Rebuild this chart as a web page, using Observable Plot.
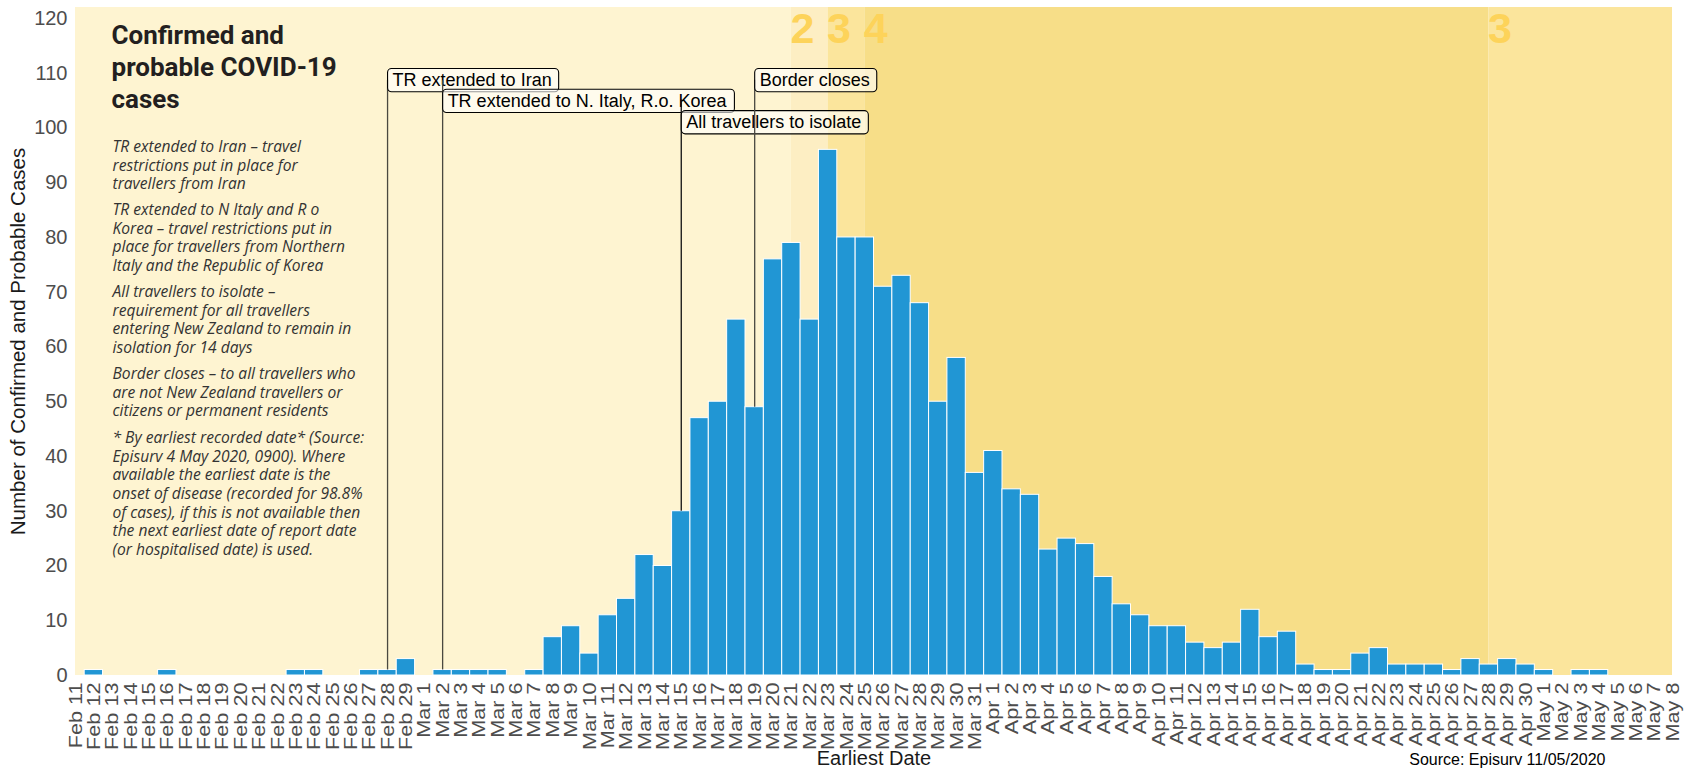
<!DOCTYPE html>
<html>
<head>
<meta charset="utf-8">
<script src="https://cdn.jsdelivr.net/npm/d3@7"></script>
<script src="https://cdn.jsdelivr.net/npm/@observablehq/plot@0.6"></script>
<style>
html, body { margin: 0; padding: 0; background: #ffffff; }
#chart svg { display: block; }
</style>
</head>
<body>
<div id="chart"></div>
<script>
// ---- data ----
const dates = [
  "Feb 11","Feb 12","Feb 13","Feb 14","Feb 15","Feb 16","Feb 17","Feb 18","Feb 19","Feb 20",
  "Feb 21","Feb 22","Feb 23","Feb 24","Feb 25","Feb 26","Feb 27","Feb 28","Feb 29",
  "Mar 1","Mar 2","Mar 3","Mar 4","Mar 5","Mar 6","Mar 7","Mar 8","Mar 9","Mar 10",
  "Mar 11","Mar 12","Mar 13","Mar 14","Mar 15","Mar 16","Mar 17","Mar 18","Mar 19","Mar 20",
  "Mar 21","Mar 22","Mar 23","Mar 24","Mar 25","Mar 26","Mar 27","Mar 28","Mar 29","Mar 30","Mar 31",
  "Apr 1","Apr 2","Apr 3","Apr 4","Apr 5","Apr 6","Apr 7","Apr 8","Apr 9","Apr 10",
  "Apr 11","Apr 12","Apr 13","Apr 14","Apr 15","Apr 16","Apr 17","Apr 18","Apr 19","Apr 20",
  "Apr 21","Apr 22","Apr 23","Apr 24","Apr 25","Apr 26","Apr 27","Apr 28","Apr 29","Apr 30",
  "May 1","May 2","May 3","May 4","May 5","May 6","May 7","May 8"
];
const counts = [
  0,1,0,0,0,1,0,0,0,0, 0,0,1,1,0,0,1,1,3,
  0,1,1,1,1,0,1,7,9,4, 11,14,22,20,30,47,50,65,49,76, 79,65,96,80,80,71,73,68,50,58,37,
  41,34,33,23,25,24,18,13,11,9, 9,6,5,6,12,7,8,2,1,1, 4,5,2,2,2,1,3,2,3,2,
  1,0,1,1,0,0,0,0
];
const yTicks = [0,10,20,30,40,50,60,70,80,90,100,110,120];

const levelStarts = ["Feb 11","Mar 21","Mar 23","Mar 25","Apr 28"];
const levelEnds   = ["Mar 21","Mar 23","Mar 25","Apr 28","May 8"];
const levelNums   = [1,2,3,4,3];

const eventDates  = ["Feb 28","Mar 2","Mar 15","Mar 19"];
const eventLabels = ["TR extended to Iran","TR extended to N. Italy, R.o. Korea","All travellers to isolate","Border closes"];
const eventLabelY = [108.7,104.9,101.0,108.7];
const eventLineTop = [108.7,108.6,105.1,108.7];

const titleText = "Confirmed and\nprobable COVID-19\ncases";
const notes = [
  "TR extended to Iran – travel\nrestrictions put in place for\ntravellers from Iran",
  "TR extended to N Italy and R o\nKorea – travel restrictions put in\nplace for travellers from Northern\nItaly and the Republic of Korea",
  "All travellers to isolate –\nrequirement for all travellers\nentering New Zealand to remain in\nisolation for 14 days",
  "Border closes – to all travellers who\nare not New Zealand travellers or\ncitizens or permanent residents",
  "* By earliest recorded date* (Source:\nEpisurv 4 May 2020, 0900). Where\navailable the earliest date is the\nonset of disease (recorded for 98.8%\nof cases), if this is not available then\nthe next earliest date of report date\n(or hospitalised date) is used."
];
const xTitle = "Earliest Date";
const yTitle = "Number of Confirmed and Probable Cases";
const sourceText = "Source: Episurv 11/05/2020";

// ---- build ----
const parseD = s => d3.utcParse("%b %d %Y")(s + " 2020");
const bars = dates.map((d, i) => ({date: parseD(d), count: counts[i]}));
const tickDates = dates.map(parseD);
const tickLabel = new Map(dates.map(d => [+parseD(d), d]));
const levels = levelStarts.map((s, i) => ({start: parseD(s), end: parseD(levelEnds[i]), num: levelNums[i]}));
const events = eventDates.map((d, i) => ({
  date: parseD(d), count: counts[dates.indexOf(d)], label: eventLabels[i],
  labelY: eventLabelY[i], lineTop: eventLineTop[i]
}));
const levelColor = {1: "#fef4d1", 2: "#fdeec3", 3: "#fbe59c", 4: "#f7de88"};
const half = d => d3.utcHour.offset(d, -12);
const halfE = d => d3.utcHour.offset(d, 12);

const W = 1689, H = 769, ML = 75, MR = 17, MT = 7, MB = 94;

const eventMarks = [];
events.forEach((ev, i) => {
  eventMarks.push(Plot.ruleX([ev], {x: "date", y1: "count", y2: "lineTop",
    stroke: i === 2 ? "#111" : "#4a4840", strokeWidth: 1.3}));
  eventMarks.push(Plot.text([ev], {x: "date", y: "labelY", text: "label", textAnchor: "start",
    dx: 5, fontSize: 18, fill: "#000", className: "evlabel"}));
});

const noteDy = [131, 194, 276, 358, 422];

const chart = Plot.plot({
  width: W, height: H,
  marginLeft: ML, marginRight: MR, marginTop: MT, marginBottom: MB,
  style: {fontFamily: "'Liberation Sans', Arial, sans-serif", color: "#4d4d4d", background: "#ffffff"},
  x: {type: "utc", domain: [parseD("Feb 11"), parseD("May 8")], axis: null},
  y: {domain: [0, 122], axis: null},
  marks: [
    Plot.rect(levels, {x1: "start", x2: "end", fill: d => levelColor[d.num]}),
    Plot.text(levels.filter(d => d.num > 1), {x: "start", frameAnchor: "top", text: d => String(d.num),
      textAnchor: "start", lineAnchor: "top", dy: 5, dx: -1, fontSize: 43, fontWeight: "bold",
      fill: "#fdd35a"}),
    Plot.rect(bars, {x1: d => half(d.date), x2: d => halfE(d.date), y1: 0, y2: "count",
      fill: "#2196d4", stroke: "#ffffff", strokeWidth: 1, clip: true}),
    ...eventMarks,
    Plot.text([titleText], {text: d => d, frameAnchor: "top-left", dx: 36, dy: 14, lineAnchor: "top",
      textAnchor: "start", fontFamily: "Roboto", fontWeight: "bold", fontSize: 26, lineHeight: 1.23,
      fill: "#231f20"}),
    ...notes.map((n, i) => Plot.text([n], {text: d => d, frameAnchor: "top-left", dx: 37, dy: noteDy[i],
      lineAnchor: "top", textAnchor: "start", fontFamily: "'Open Sans'", fontStyle: "italic",
      fontSize: 15.6, lineHeight: 1.2, fill: "#333333"})),
    Plot.axisY(yTicks, {tickSize: 0, tickPadding: 8, fontSize: 20, label: null,
      fontFamily: "'Liberation Sans Narrow', 'Liberation Sans', Arial, sans-serif"}),
    Plot.axisX(tickDates, {tickFormat: d => tickLabel.get(+d), tickRotate: -90, tickSize: 0,
      tickPadding: 7, fontSize: 19, label: null, className: "xticks"}),
    Plot.text([xTitle], {text: d => d, frameAnchor: "bottom", dy: 89, fontSize: 20, fill: "#1a1a1a"}),
    Plot.text([yTitle], {text: d => d, frameAnchor: "left", dx: -57, rotate: -90, textAnchor: "middle",
      fontSize: 20.5, fill: "#1a1a1a"}),
    Plot.text([sourceText], {text: d => d, frameAnchor: "bottom-right", dx: -67, dy: 89, textAnchor: "end",
      fontSize: 16, fill: "#000"})
  ]
});
document.getElementById("chart").appendChild(chart);

// stretch x tick labels along their reading direction (reference glyphs are elongated)
chart.querySelectorAll("g.xticks text, g[aria-label='x-axis tick label'] text").forEach(t => {
  const tr = t.getAttribute("transform") || "";
  if (!tr.includes("scale")) t.setAttribute("transform", tr + " scale(1.14,1)");
});

// label boxes behind event texts
const NS = "http://www.w3.org/2000/svg";
chart.querySelectorAll("g.evlabel text").forEach(t => {
  const b = t.getBBox();
  const r = document.createElementNS(NS, "rect");
  r.setAttribute("x", -5);
  r.setAttribute("y", b.y - 1.6);
  r.setAttribute("width", b.width + b.x + 12);
  r.setAttribute("height", b.height + 3.2);
  r.setAttribute("rx", 4);
  r.setAttribute("fill", "#ffffff");
  r.setAttribute("fill-opacity", "0.6");
  r.setAttribute("stroke", "#000");
  r.setAttribute("stroke-width", "1.1");
  const tr = t.getAttribute("transform");
  if (tr) r.setAttribute("transform", tr);
  t.parentNode.insertBefore(r, t);
});
</script>
</body>
</html>
